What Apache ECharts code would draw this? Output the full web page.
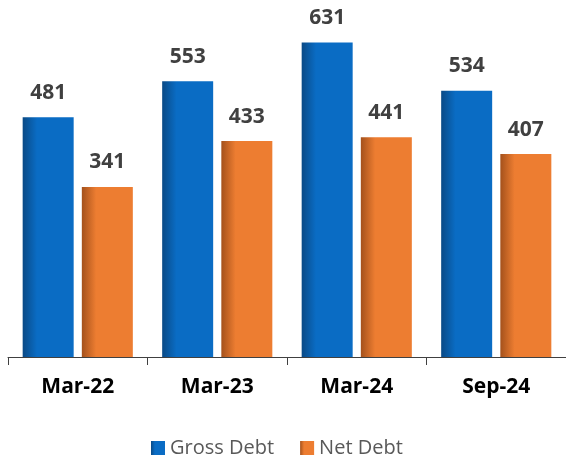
<!DOCTYPE html>
<html>
<head>
<meta charset="utf-8">
<script src="https://cdn.jsdelivr.net/npm/echarts@6/dist/echarts.min.js"></script>
<style>
  html, body { margin: 0; padding: 0; background: #fff; }
  #chart { width: 566px; height: 456px; }
</style>
</head>
<body>
<div id="chart"></div>
<script>
// Debt by period
const categories = ['Mar-22', 'Mar-23', 'Mar-24', 'Sep-24'];
const grossDebt = [481, 553, 631, 534];
const netDebt = [341, 433, 441, 407];

const chart = echarts.init(document.getElementById('chart'));

// horizontal shading, darker at the left edge
function shade(dark, main) {
  return new echarts.graphic.LinearGradient(0, 0, 1, 0, [
    { offset: 0, color: dark },
    { offset: 0.28, color: main },
    { offset: 1, color: main }
  ]);
}

const labelStyle = {
  show: true,
  position: 'top',
  distance: 14,
  color: '#404040',
  fontSize: 21,
  fontWeight: 'bold',
  fontFamily: 'Open Sans'
};

chart.setOption({
  animation: false,
  grid: { left: 8, right: 0, top: 8, bottom: 99 },
  legend: {
    top: 433,
    left: 146,
    itemWidth: 14,
    itemHeight: 14,
    itemGap: 26,
    icon: 'rect',
    textStyle: { color: '#595959', fontSize: 20, fontFamily: 'Open Sans' },
    data: ['Gross Debt', 'Net Debt']
  },
  xAxis: {
    type: 'category',
    data: categories,
    axisLine: { show: true, lineStyle: { color: '#404040', width: 1 } },
    axisTick: { show: true, alignWithLabel: false, length: 8, lineStyle: { color: '#404040' } },
    axisLabel: {
      color: '#000',
      fontSize: 21,
      fontWeight: 'bold',
      fontFamily: 'Open Sans',
      margin: 20
    }
  },
  yAxis: {
    type: 'value',
    min: 0,
    max: 700,
    show: false,
    splitLine: { show: false }
  },
  series: [
    {
      name: 'Gross Debt',
      type: 'bar',
      data: grossDebt,
      barWidth: 51,
      barGap: '16%',
      itemStyle: { color: shade('#0a4a86', '#0a6cc4') },
      label: labelStyle
    },
    {
      name: 'Net Debt',
      type: 'bar',
      data: netDebt,
      barWidth: 51,
      itemStyle: { color: shade('#a4511c', '#ed7d31') },
      label: labelStyle
    }
  ]
});
</script>
</body>
</html>
